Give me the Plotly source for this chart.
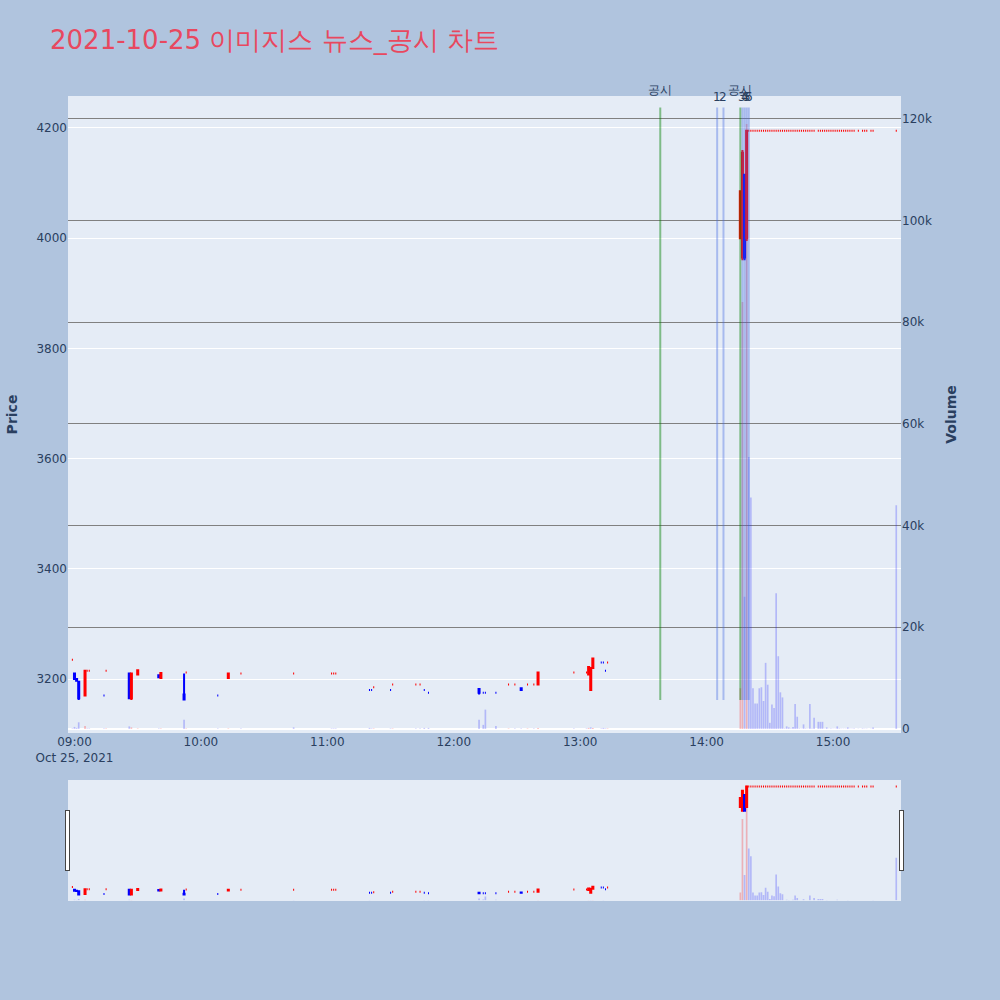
import plotly.graph_objs as go
import plotly.subplots as sp

day = "2021-10-25"

# 1-minute candles (only minutes with trades)
times = ["08:59", "09:00", "09:01", "09:02", "09:05", "09:06", "09:07", "09:14", "09:15", "09:26",
         "09:27", "09:30", "09:40", "09:41", "09:52", "09:53", "10:08", "10:13", "10:19", "10:44",
         "11:02", "11:03", "11:04", "11:20", "11:21", "11:22", "11:30", "11:31", "11:42", "11:44",
         "11:46", "11:48", "12:12", "12:14", "12:15", "12:20", "12:26", "12:29", "12:32", "12:35",
         "12:38", "12:40", "12:57", "13:03", "13:04", "13:05", "13:06", "13:10", "13:11", "13:12",
         "13:13",
         "14:16", "14:17", "14:18", "14:19",
         "14:20", "14:21", "14:22", "14:23", "14:24", "14:25", "14:26", "14:27", "14:28", "14:29",
         "14:30", "14:31", "14:32", "14:33", "14:34", "14:35", "14:36", "14:37", "14:38", "14:39",
         "14:40", "14:41", "14:42", "14:43", "14:44", "14:45", "14:46", "14:47", "14:48", "14:49",
         "14:50", "14:51", "14:53", "14:54", "14:55", "14:56", "14:57", "14:58", "14:59", "15:00",
         "15:01", "15:02", "15:03", "15:04", "15:05", "15:06", "15:07", "15:08", "15:09", "15:10",
         "15:12", "15:14", "15:15", "15:16", "15:18", "15:19", "15:30"]

opens = [3235, 3210, 3200, 3195, 3170, 3215, 3215, 3170, 3215, 3210,
         3165, 3208, 3207, 3202, 3172, 3212, 3170, 3202, 3210, 3210,
         3210, 3210, 3210, 3180, 3180, 3185, 3180, 3190, 3190, 3190,
         3180, 3175, 3182, 3175, 3175, 3175, 3190, 3190, 3183, 3190,
         3190, 3190, 3212, 3212, 3208, 3180, 3220, 3230, 3230, 3215,
         3230,
         4000, 3965, 4115, 4000,
         4195, 4195, 4195, 4195, 4195, 4195, 4195, 4195, 4195, 4195,
         4195, 4195, 4195, 4195, 4195, 4195, 4195, 4195, 4195, 4195,
         4195, 4195, 4195, 4195, 4195, 4195, 4195, 4195, 4195, 4195,
         4195, 4195, 4195, 4195, 4195, 4195, 4195, 4195, 4195, 4195,
         4195, 4195, 4195, 4195, 4195, 4195, 4195, 4195, 4195, 4195,
         4195, 4195, 4195, 4195, 4195, 4195, 4195]

highs = [3235, 3210, 3200, 3195, 3215, 3215, 3215, 3170, 3215, 3210,
         3210, 3216, 3207, 3211, 3210, 3212, 3170, 3210, 3210, 3210,
         3210, 3210, 3210, 3180, 3180, 3185, 3180, 3190, 3190, 3190,
         3180, 3175, 3182, 3175, 3175, 3175, 3190, 3190, 3183, 3190,
         3190, 3212, 3212, 3212, 3222, 3222, 3237, 3230, 3230, 3215,
         3230,
         4085, 4160, 4115, 4195,
         4195, 4195, 4195, 4195, 4195, 4195, 4195, 4195, 4195, 4195,
         4195, 4195, 4195, 4195, 4195, 4195, 4195, 4195, 4195, 4195,
         4195, 4195, 4195, 4195, 4195, 4195, 4195, 4195, 4195, 4195,
         4195, 4195, 4195, 4195, 4195, 4195, 4195, 4195, 4195, 4195,
         4195, 4195, 4195, 4195, 4195, 4195, 4195, 4195, 4195, 4195,
         4195, 4195, 4195, 4195, 4195, 4195, 4195]

lows = [3235, 3200, 3195, 3162, 3170, 3215, 3215, 3170, 3215, 3165,
        3162, 3208, 3203, 3202, 3162, 3212, 3170, 3202, 3210, 3210,
        3210, 3210, 3210, 3180, 3180, 3185, 3180, 3190, 3190, 3190,
        3180, 3175, 3172, 3175, 3175, 3175, 3190, 3190, 3180, 3190,
        3190, 3190, 3212, 3212, 3208, 3178, 3220, 3230, 3230, 3215,
        3230,
        4000, 3960, 3960, 3995,
        4195, 4195, 4195, 4195, 4195, 4195, 4195, 4195, 4195, 4195,
        4195, 4195, 4195, 4195, 4195, 4195, 4195, 4195, 4195, 4195,
        4195, 4195, 4195, 4195, 4195, 4195, 4195, 4195, 4195, 4195,
        4195, 4195, 4195, 4195, 4195, 4195, 4195, 4195, 4195, 4195,
        4195, 4195, 4195, 4195, 4195, 4195, 4195, 4195, 4195, 4195,
        4195, 4195, 4195, 4195, 4195, 4195, 4195]

closes = [3235, 3200, 3197, 3165, 3215, 3215, 3215, 3170, 3215, 3165,
          3210, 3216, 3203, 3211, 3163, 3212, 3170, 3210, 3210, 3210,
          3210, 3210, 3210, 3180, 3180, 3185, 3180, 3190, 3190, 3190,
          3180, 3175, 3175, 3175, 3175, 3175, 3190, 3190, 3180, 3190,
          3190, 3212, 3212, 3212, 3222, 3220, 3237, 3230, 3230, 3215,
          3230,
          4085, 4155, 3965, 4195,
          4195, 4195, 4195, 4195, 4195, 4195, 4195, 4195, 4195, 4195,
          4195, 4195, 4195, 4195, 4195, 4195, 4195, 4195, 4195, 4195,
          4195, 4195, 4195, 4195, 4195, 4195, 4195, 4195, 4195, 4195,
          4195, 4195, 4195, 4195, 4195, 4195, 4195, 4195, 4195, 4195,
          4195, 4195, 4195, 4195, 4195, 4195, 4195, 4195, 4195, 4195,
          4195, 4195, 4195, 4195, 4195, 4195, 4195]

volumes = [100, 400, 200, 1300, 600, 100, 100, 100, 100, 500,
           300, 100, 100, 100, 1800, 100, 100, 100, 100, 300,
           100, 100, 100, 200, 100, 100, 100, 100, 100, 100,
           200, 200, 1800, 800, 3800, 600, 100, 100, 100, 100,
           100, 200, 100, 100, 200, 300, 200, 100, 200, 100,
           100,
           8000, 84000, 26000, 119000,
           53500, 45500, 8000, 5000, 5000, 8000, 8200, 5500, 13000, 8700,
           1200, 4800, 4100, 26700, 14300, 7200, 6200, 100, 500, 300,
           100, 400, 4900, 2400, 100, 50, 900, 100, 50, 4900,
           100, 2200, 1400, 1400, 1400, 50, 300, 50, 100, 50,
           50, 500, 100, 50, 50, 50, 300, 50, 50, 100,
           50, 100, 50, 50, 50, 300, 44000]

# disclosures (공시) and news items
disclosure_times = ["13:38", "14:16"]
news_times = ["14:05", "14:08", "14:17", "14:18", "14:19", "14:20"]
news_labels = ["1", "2", "3", "4", "5", "6"]

x = [day + " " + t for t in times]

# volume bar colour: red when close rose vs previous close, else blue
vol_colors = []
prev = None
for c in closes:
    if prev is not None and c > prev:
        vol_colors.append("rgba(255,0,0,0.25)")
    else:
        vol_colors.append("rgba(0,0,255,0.22)")
    prev = c

fig = sp.make_subplots(specs=[[{"secondary_y": True}]])

fig.add_trace(go.Candlestick(x=x, open=opens, high=highs, low=lows, close=closes, name='Price',
                             increasing=dict(line=dict(color='red', width=2), fillcolor='red'),
                             decreasing=dict(line=dict(color='blue', width=2), fillcolor='blue')),
              secondary_y=False)

fig.add_trace(go.Bar(x=x, y=volumes, name='Volume', marker=dict(color=vol_colors, line=dict(width=0))),
              secondary_y=True)

# vertical marker lines
y_bottom = min(lows)
y_top = max(highs) * 1.01
for t in disclosure_times:
    fig.add_shape(type='line', x0=day + " " + t, x1=day + " " + t, y0=y_bottom, y1=y_top,
                  xref='x', yref='y', line=dict(color='rgba(0,128,0,0.45)', width=2))
    fig.add_annotation(x=day + " " + t, y=1.0095, xref='x', yref='paper', text='공시',
                       showarrow=False, yanchor='middle', font=dict(size=12, color='#2a3f5f'))
for t, label in zip(news_times, news_labels):
    fig.add_shape(type='line', x0=day + " " + t, x1=day + " " + t, y0=y_bottom, y1=y_top,
                  xref='x', yref='y', line=dict(color='rgba(65,105,225,0.38)', width=2))
    fig.add_annotation(x=day + " " + t, y=0.9984, xref='x', yref='paper', text=label,
                       showarrow=False, yanchor='middle', font=dict(size=12, color='#2a3f5f'))

fig.update_layout(width=1000, height=1000, paper_bgcolor='lightsteelblue', showlegend=False,
                  font=dict(family='DejaVu Sans', size=12),
                  title=dict(text='2021-10-25 이미지스 뉴스_공시 차트', x=0.05, y=0.96, yanchor='middle',
                             font=dict(size=26, color='rgb(232,72,95)')),
                  margin=dict(l=68, r=99, t=96, b=100))
fig.update_xaxes(domain=[0, 1], showgrid=False, range=[day + " 08:56:55", day + " 15:32:15"],
                 rangeslider=dict(visible=True))
fig.update_yaxes(title_text='<b>Price</b>', range=[3102, 4258], secondary_y=False)
fig.update_yaxes(title_text='<b>Volume</b>', range=[-800, 124500], showgrid=True, gridcolor='gray',
                 secondary_y=True)

fig.write_html("out.html", config={'displayModeBar': False},
               post_script="document.body.style.margin='0px';")
